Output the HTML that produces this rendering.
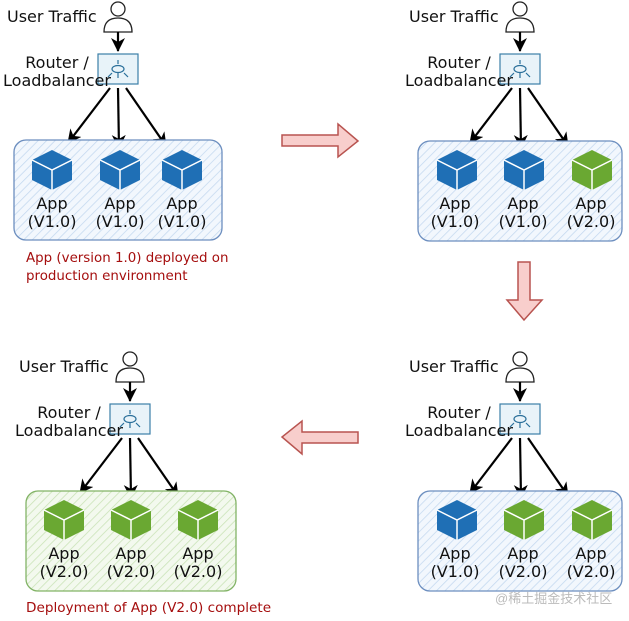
<!DOCTYPE html>
<html><head><style>
html,body{margin:0;padding:0;background:#fff}
svg{display:block}
</style></head><body>
<svg width="629" height="621" viewBox="0 0 629 621" xmlns="http://www.w3.org/2000/svg" font-family="'DejaVu Sans','Liberation Sans',sans-serif" font-size="16" fill="#111">
<defs>
<pattern id="hb" width="6" height="6" patternUnits="userSpaceOnUse" patternTransform="rotate(45)">
<rect width="6" height="6" fill="#f2f7fd"/><line x1="0" y1="0" x2="0" y2="6" stroke="#c3d8ef" stroke-width="1.5"/></pattern>
<pattern id="hg" width="6" height="6" patternUnits="userSpaceOnUse" patternTransform="rotate(45)">
<rect width="6" height="6" fill="#f3f9ee"/><line x1="0" y1="0" x2="0" y2="6" stroke="#c8e2b4" stroke-width="1.5"/></pattern>
<marker id="ar" markerWidth="16" markerHeight="16" refX="13" refY="7" orient="auto" markerUnits="userSpaceOnUse">
<path d="M0,0 L14,7 L0,14 L4,7 Z" fill="#000"/></marker>
<g id="cb"><path d="M0,-20 L20,-10 L20,10 L0,20 L-20,10 L-20,-10 Z"/><path d="M-20,-10 L0,0 L20,-10 M0,0 L0,20" stroke="#fff" stroke-width="1.5" fill="none"/></g>
<g id="top">
<circle cx="118" cy="9" r="7" fill="#fff" stroke="#222" stroke-width="1.3"/>
<path d="M104,32 Q104,18 118,18 Q132,18 132,32 Z" fill="#fff" stroke="#222" stroke-width="1.3"/>
<line x1="118" y1="32" x2="118" y2="51" stroke="#000" stroke-width="2.2" marker-end="url(#ar)"/>
<rect x="98" y="54" width="40" height="30" fill="#e8f3f9" stroke="#3b7fa8" stroke-width="1.2"/>
<g stroke="#2a6f9a" stroke-width="1.2" fill="none"><ellipse cx="118" cy="69" rx="6" ry="3.5"/><line x1="118" y1="60" x2="118" y2="64"/><line x1="118" y1="73" x2="118" y2="78"/><line x1="112" y1="73" x2="108" y2="77"/><line x1="124" y1="73" x2="128" y2="77"/></g>
<text x="7" y="22" font-size="16">User Traffic</text>
<text x="57" y="68" text-anchor="middle" font-size="16">Router /</text>
<text x="57" y="86" text-anchor="middle" font-size="16">Loadbalancer</text>
<g stroke="#000" stroke-width="2.2">
<line x1="110" y1="88" x2="68" y2="143" marker-end="url(#ar)"/>
<line x1="118" y1="88" x2="119" y2="148" marker-end="url(#ar)"/>
<line x1="126" y1="88" x2="166" y2="146" marker-end="url(#ar)"/>
</g>
</g>
</defs>

<use href="#top"/>
<rect x="14" y="140" width="208" height="100" rx="12" fill="url(#hb)" stroke="#6c8ebf" stroke-width="1.3"/>
<use href="#cb" x="52" y="170" fill="#1f6fb5"/><use href="#cb" x="120" y="170" fill="#1f6fb5"/><use href="#cb" x="182" y="170" fill="#1f6fb5"/>
<g text-anchor="middle" font-size="16">
<text x="52" y="209">App</text><text x="52" y="227">(V1.0)</text>
<text x="120" y="209">App</text><text x="120" y="227">(V1.0)</text>
<text x="182" y="209">App</text><text x="182" y="227">(V1.0)</text>
</g>
<text x="26" y="262" font-size="13.4" fill="#a50e0e">App (version 1.0) deployed on</text>
<text x="26" y="280" font-size="13.4" fill="#a50e0e">production environment</text>

<use href="#top" x="402"/>
<rect x="418" y="141" width="204" height="100" rx="12" fill="url(#hb)" stroke="#6c8ebf" stroke-width="1.3"/>
<use href="#cb" x="457" y="170" fill="#1f6fb5"/><use href="#cb" x="524" y="170" fill="#1f6fb5"/><use href="#cb" x="592" y="170" fill="#6aa832"/>
<g text-anchor="middle" font-size="16">
<text x="455" y="209">App</text><text x="455" y="227">(V1.0)</text>
<text x="523" y="209">App</text><text x="523" y="227">(V1.0)</text>
<text x="591" y="209">App</text><text x="591" y="227">(V2.0)</text>
</g>

<use href="#top" x="402" y="350"/>
<rect x="418" y="491" width="204" height="100" rx="12" fill="url(#hb)" stroke="#6c8ebf" stroke-width="1.3"/>
<use href="#cb" x="457" y="520" fill="#1f6fb5"/><use href="#cb" x="524" y="520" fill="#6aa832"/><use href="#cb" x="592" y="520" fill="#6aa832"/>
<g text-anchor="middle" font-size="16">
<text x="455" y="559">App</text><text x="455" y="577">(V1.0)</text>
<text x="523" y="559">App</text><text x="523" y="577">(V2.0)</text>
<text x="591" y="559">App</text><text x="591" y="577">(V2.0)</text>
</g>
<text x="495" y="603" font-size="13" fill="#bbb" font-family="'Liberation Sans','Noto Sans CJK SC',sans-serif">@稀土掘金技术社区</text>

<use href="#top" x="12" y="350"/>
<rect x="26" y="491" width="210" height="100" rx="12" fill="url(#hg)" stroke="#82b366" stroke-width="1.3"/>
<use href="#cb" x="64" y="520" fill="#6aa832"/><use href="#cb" x="131" y="520" fill="#6aa832"/><use href="#cb" x="198" y="520" fill="#6aa832"/>
<g text-anchor="middle" font-size="16">
<text x="64" y="559">App</text><text x="64" y="577">(V2.0)</text>
<text x="131" y="559">App</text><text x="131" y="577">(V2.0)</text>
<text x="198" y="559">App</text><text x="198" y="577">(V2.0)</text>
</g>
<text x="26" y="612" font-size="13.6" fill="#a50e0e">Deployment of App (V2.0) complete</text>

<g fill="#f8cecc" stroke="#b85450" stroke-width="1.5">
<path d="M282,135 L338,135 L338,124 L358,141 L338,157 L338,146 L282,146 Z"/>
<path d="M518,262 L530,262 L530,300 L542,300 L524,320 L507,300 L518,300 Z"/>
<path d="M358,432 L302,432 L302,421 L282,437 L302,454 L302,443 L358,443 Z"/>
</g>
</svg>
</body></html>
